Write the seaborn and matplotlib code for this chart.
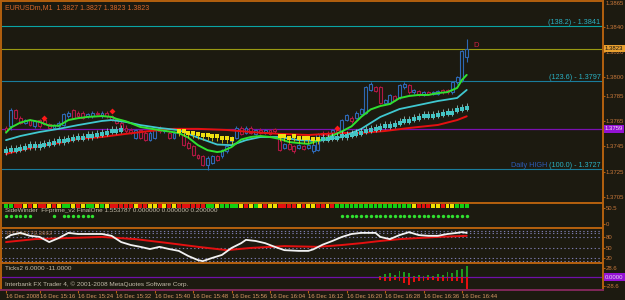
import matplotlib
matplotlib.use("Agg")
import matplotlib.pyplot as plt
import matplotlib.transforms as mtransforms
import numpy as np
import pandas as pd
import seaborn as sns

# ---------------- data ----------------
bars = list(range(97))  # M1 bars, 16 Dec 2008 15:09 ... 16:45

open_ = [1.3760, 1.3761, 1.3774, 1.3768, 1.3764, 1.3766, 1.3761, 1.3766, 1.3766, 1.3763,
         1.3760, 1.3761, 1.3762, 1.3769, 1.3774, 1.3772, 1.3772, 1.3769, 1.3769, 1.3772,
         1.3769, 1.3772, 1.3769, 1.3767, 1.3764, 1.3760, 1.3758, 1.3752, 1.3758, 1.3756,
         1.3750, 1.3752, 1.3760, 1.3757, 1.3756, 1.3752, 1.3756, 1.3754, 1.3748, 1.3745,
         1.3738, 1.3737, 1.3730, 1.3732, 1.3737, 1.3737, 1.3741, 1.3749, 1.3752, 1.3760,
         1.3756, 1.3760, 1.3755, 1.3758, 1.3756, 1.3758, 1.3759, 1.3752, 1.3744, 1.3747,
         1.3745, 1.3744, 1.3745, 1.3744, 1.3741, 1.3742, 1.3756, 1.3756, 1.3753, 1.3758,
         1.3756, 1.3766, 1.3768, 1.3768, 1.3771, 1.3772, 1.3790, 1.3792, 1.3792, 1.3780,
         1.3780, 1.3785, 1.3784, 1.3792, 1.3794, 1.3788, 1.3789, 1.3786, 1.3788, 1.3787,
         1.3787, 1.3790, 1.3790, 1.3788, 1.3796, 1.3797, 1.3816]
high = [1.3761, 1.3776, 1.3775, 1.3769, 1.3767, 1.3767, 1.3766, 1.3767, 1.3767, 1.3764,
        1.3763, 1.3765, 1.3772, 1.3773, 1.3775, 1.3773, 1.3773, 1.3772, 1.3773, 1.3773,
        1.3773, 1.3773, 1.3770, 1.3768, 1.3765, 1.3762, 1.3760, 1.3759, 1.3759, 1.3757,
        1.3757, 1.3759, 1.3761, 1.3760, 1.3757, 1.3757, 1.3759, 1.3755, 1.3749, 1.3746,
        1.3739, 1.3738, 1.3737, 1.3738, 1.3738, 1.3743, 1.3746, 1.3753, 1.3761, 1.3761,
        1.3761, 1.3761, 1.3759, 1.3760, 1.3759, 1.3759, 1.3760, 1.3753, 1.3748, 1.3748,
        1.3746, 1.3747, 1.3746, 1.3747, 1.3747, 1.3756, 1.3757, 1.3757, 1.3759, 1.3759,
        1.3767, 1.3771, 1.3769, 1.3773, 1.3776, 1.3793, 1.3796, 1.3793, 1.3793, 1.3783,
        1.3787, 1.3786, 1.3795, 1.3796, 1.3795, 1.3791, 1.3790, 1.3789, 1.3789, 1.3789,
        1.3790, 1.3791, 1.3791, 1.3797, 1.3801, 1.3822, 1.3831]
low = [1.3756, 1.3758, 1.3767, 1.3763, 1.3763, 1.3761, 1.3760, 1.3760, 1.3762, 1.3759,
       1.3759, 1.3760, 1.3761, 1.3768, 1.3767, 1.3768, 1.3767, 1.3768, 1.3768, 1.3770,
       1.3768, 1.3768, 1.3765, 1.3763, 1.3757, 1.3756, 1.3755, 1.3751, 1.3751, 1.3749,
       1.3749, 1.3751, 1.3756, 1.3756, 1.3751, 1.3751, 1.3755, 1.3745, 1.3743, 1.3737,
       1.3735, 1.3729, 1.3726, 1.3731, 1.3733, 1.3736, 1.3740, 1.3748, 1.3751, 1.3754,
       1.3755, 1.3755, 1.3754, 1.3755, 1.3755, 1.3754, 1.3756, 1.3741, 1.3743, 1.3742,
       1.3740, 1.3743, 1.3742, 1.3743, 1.3740, 1.3741, 1.3753, 1.3753, 1.3752, 1.3755,
       1.3755, 1.3765, 1.3764, 1.3767, 1.3770, 1.3771, 1.3789, 1.3788, 1.3779, 1.3779,
       1.3779, 1.3781, 1.3783, 1.3791, 1.3787, 1.3787, 1.3785, 1.3785, 1.3786, 1.3786,
       1.3786, 1.3787, 1.3787, 1.3787, 1.3795, 1.3796, 1.3812]
close = [1.3757, 1.3774, 1.3768, 1.3764, 1.3766, 1.3762, 1.3765, 1.3761, 1.3763, 1.3760,
         1.3762, 1.3764, 1.3771, 1.3772, 1.3768, 1.3769, 1.3768, 1.3771, 1.3772, 1.3771,
         1.3772, 1.3769, 1.3766, 1.3764, 1.3758, 1.3757, 1.3756, 1.3758, 1.3752, 1.3750,
         1.3756, 1.3758, 1.3757, 1.3759, 1.3752, 1.3756, 1.3758, 1.3746, 1.3744, 1.3738,
         1.3736, 1.3730, 1.3736, 1.3737, 1.3734, 1.3742, 1.3745, 1.3752, 1.3760, 1.3755,
         1.3760, 1.3756, 1.3758, 1.3756, 1.3758, 1.3755, 1.3757, 1.3742, 1.3747, 1.3743,
         1.3741, 1.3746, 1.3743, 1.3746, 1.3746, 1.3755, 1.3754, 1.3754, 1.3758, 1.3756,
         1.3766, 1.3770, 1.3765, 1.3772, 1.3775, 1.3792, 1.3795, 1.3789, 1.3780, 1.3782,
         1.3786, 1.3782, 1.3794, 1.3795, 1.3788, 1.3790, 1.3786, 1.3788, 1.3787, 1.3788,
         1.3789, 1.3788, 1.3788, 1.3796, 1.3800, 1.3821, 1.3823]

time_tick_bars = [0, 7, 15, 23, 31, 39, 47, 55, 63, 71, 79, 87, 95]
time_tick_labels = ["16 Dec 2008", "16 Dec 15:16", "16 Dec 15:24", "16 Dec 15:32",
                    "16 Dec 15:40", "16 Dec 15:48", "16 Dec 15:56", "16 Dec 16:04",
                    "16 Dec 16:12", "16 Dec 16:20", "16 Dec 16:28", "16 Dec 16:36",
                    "16 Dec 16:44"]

price_ticks = [1.3840, 1.3820, 1.3800, 1.3785, 1.3765, 1.3745, 1.3725, 1.3705]

green_ma_bar = [0, 1, 2, 3, 5, 7, 9, 11, 12, 13, 15, 17, 20, 22, 23, 25, 28, 32, 36, 38,
                40, 42, 44, 45, 47, 49, 51, 53, 55, 57, 59, 61, 63, 65, 67, 70, 72, 74, 76, 78,
                80, 82, 84, 86, 88, 90, 92, 94, 95, 96]
green_ma = [1.37560, 1.37600, 1.37620, 1.37640, 1.37660, 1.37645, 1.37615, 1.37615, 1.37637, 1.37660,
            1.37675, 1.37685, 1.37692, 1.37685, 1.37670, 1.37650, 1.37605, 1.37580, 1.37557, 1.37520,
            1.37460, 1.37420, 1.37405, 1.37410, 1.37445, 1.37505, 1.37525, 1.37533, 1.37525, 1.37510,
            1.37485, 1.37477, 1.37470, 1.37495, 1.37520, 1.37570, 1.37610, 1.37685, 1.37745, 1.37772,
            1.37788, 1.37835, 1.37852, 1.37860, 1.37860, 1.37875, 1.37883, 1.37916, 1.37979, 1.38020]

cyan_ma_bar = [0, 3, 7, 11, 15, 20, 22, 25, 28, 32, 36, 40, 44, 47, 50, 53, 57, 61, 65, 70,
               74, 78, 82, 86, 90, 94, 95, 96]
cyan_ma = [1.37500, 1.37533, 1.37565, 1.37590, 1.37620, 1.37653, 1.37660, 1.37645, 1.37620, 1.37597,
           1.37580, 1.37520, 1.37465, 1.37460, 1.37500, 1.37525, 1.37525, 1.37500, 1.37493, 1.37525,
           1.37589, 1.37685, 1.37748, 1.37780, 1.37812, 1.37836, 1.37868, 1.37900]

red_ma_bar = [0, 3, 7, 11, 15, 20, 25, 30, 35, 40, 46, 51, 57, 63, 70, 74, 79, 84, 90, 94, 96]
red_ma = [1.37390, 1.37420, 1.37453, 1.37477, 1.37510, 1.37525, 1.37550, 1.37573, 1.37590, 1.37590,
          1.37581, 1.37565, 1.37550, 1.37541, 1.37557, 1.37557, 1.37573, 1.37597, 1.37621, 1.37660,
          1.37690]

cyan_dot_bar = list(range(0, 25)) + list(range(66, 97))
cyan_dot = [1.3741, 1.3742, 1.3742, 1.3743, 1.3744, 1.3745, 1.3745, 1.3745, 1.3746, 1.3747,
            1.3748, 1.3749, 1.3749, 1.3750, 1.3751, 1.3752, 1.3752, 1.3753, 1.3753, 1.3754,
            1.3755, 1.3756, 1.3757, 1.3757, 1.3758,
            1.3751, 1.3751, 1.3752, 1.3752, 1.3753, 1.3753, 1.3754, 1.3755, 1.3756, 1.3757,
            1.3758, 1.3759, 1.3760, 1.3761, 1.3761, 1.3762, 1.3764, 1.3765, 1.3765, 1.3767,
            1.3768, 1.3769, 1.3769, 1.3769, 1.3770, 1.3771, 1.3772, 1.3772, 1.3774, 1.3775,
            1.3776]

yellow_dot_bar = list(range(36, 48)) + list(range(57, 66))
yellow_dot = [1.3757, 1.3757, 1.3756, 1.3756, 1.3755, 1.3754, 1.3754, 1.3753, 1.3753, 1.3752,
              1.3752, 1.3751,
              1.3753, 1.3753, 1.3752, 1.3753, 1.3752, 1.3752, 1.3752, 1.3751, 1.3751]

fractal_bar = [8, 22, 69]
fractal_price = [1.3768, 1.3773, 1.3760]

sw_state = list("GGRRYRYRRY" "RYGGYRYGGY" "GYRRRRRYRR" "YYRYRYRRRR" "RRGGYGGGGY"
                "RYGYRYYRRR" "RYRYYRRYRG" "GGGGGGGGGG" "GGGGGYRRRY" "YRYYGGG")
sw_dot_bar = [0, 1, 2, 3, 4, 5, 10, 12, 13, 14, 15, 16, 17, 18] + list(range(70, 97))

osc_white_bar = [0, 1, 3, 5, 7, 9, 11, 13, 15, 18, 20, 22, 24, 26, 28, 30, 32, 34, 36, 38,
                 40, 41, 43, 45, 47, 49, 50, 52, 54, 56, 58, 61, 63, 64, 66, 68, 70, 72, 74, 76,
                 77, 78, 80, 82, 84, 86, 88, 90, 92, 94, 95, 96]
osc_white = [78, 86, 92, 84, 81, 67, 78, 92, 89, 89, 89, 84, 67, 59, 54, 48, 54, 48, 43, 29,
             18, 15, 24, 32, 51, 64, 73, 70, 64, 54, 45, 43, 43, 47, 60, 70, 81, 89, 92, 92,
             92, 81, 75, 86, 94, 86, 84, 84, 89, 92, 94, 92]
osc_red_bar = [0, 6, 13, 20, 27, 34, 40, 46, 51, 58, 65, 70, 74, 78, 82, 86, 90, 96]
osc_red = [67, 75, 78, 81, 75, 64, 54, 45, 51, 56, 54, 59, 64, 70, 75, 78, 81, 84]
osc_levels = [98, 91, 80, 50, 23, 16]

tick_bar = list(range(78, 97))
tick_up = [3, 10.5, 14.7, 7.3, 21, 17.9, 14.7, 4.1, 7.3, 4.1, 7.3, 2, 10.5, 7.3, 17.9, 12.6, 23, 26.4, 36.9]
tick_down = [-8.6, -10.8, -13.9, -8.6, -10.8, -19.1, -24.5, -17, -10.8, -13.9, -8.6, -8.6, -13.9,
             -10.8, -13.9, -10.8, -13.9, -19, -38]

# ---------------- style ----------------
BG = '#1c1a10'
BORDER = '#b4600e'
LABEL = '#c8783a'
TIMECOL = '#d89a66'
BULL = '#2e68b4'
BEAR = '#b01844'
RFS = 4.3   # right-axis label size

sns.set_theme(style='dark', rc={'axes.facecolor': BG, 'figure.facecolor': BG,
                                'axes.edgecolor': BORDER})
plt.rcParams['font.family'] = ['Liberation Sans', 'DejaVu Sans']

fig = plt.figure(figsize=(6.25, 3.0), dpi=100)
fig.patch.set_facecolor(BG)


def px_axes(y0, y1, x0=1, x1=603):
    return fig.add_axes([x0 / 625, 1 - y1 / 300, (x1 - x0) / 625, (y1 - y0) / 300])


ax = px_axes(1, 203)
ax_sw = px_axes(203, 228)
ax_osc = px_axes(228, 263)
ax_tk = px_axes(263, 290)

for a in (ax, ax_sw, ax_osc, ax_tk):
    a.set_facecolor(BG)
    a.grid(False)
    a.set_xlim(-1.04, 124.4)
    for s in a.spines.values():
        s.set_color(BORDER)
        s.set_linewidth(1.4)
        s.set_visible(True)
    a.yaxis.tick_right()
    a.tick_params(axis='y', colors=BORDER, labelcolor=LABEL, labelsize=RFS,
                  length=1.5, width=0.8, pad=0.6, right=True, left=False)
    a.set_xlabel('')
    a.set_ylabel('')

for a in (ax, ax_sw, ax_osc):
    a.set_xticks([])

# ---------------- main price panel ----------------
ax.set_ylim(1.36999, 1.38609)
ax.set_yticks(price_ticks)
ax.set_yticklabels([f"{p:.4f}" for p in price_ticks])
ytrans = mtransforms.blended_transform_factory(ax.transAxes, ax.transData)

ax.axhline(1.3841, color='#0aa4a4', lw=0.8, zorder=1)
ax.axhline(1.3823, color='#9a9a12', lw=0.8, zorder=1)
ax.axhline(1.3797, color='#1a7c9c', lw=0.8, zorder=1)
ax.axhline(1.3759, color='#7a10b0', lw=0.9, zorder=1)
ax.axhline(1.3727, color='#1a7c9c', lw=0.8, zorder=1)

FIBO = '#2ab0c2'
ax.text(0.996, 1.3841, "(138.2) - 1.3841", transform=ytrans, ha='right', va='bottom',
        color=FIBO, fontsize=5.2)
ax.text(0.996, 1.3797, "(123.6) - 1.3797", transform=ytrans, ha='right', va='bottom',
        color=FIBO, fontsize=5.2)
t_dh = ax.text(0.996, 1.3727, "(100.0) - 1.3727", transform=ytrans, ha='right', va='bottom',
               color=FIBO, fontsize=5.2)
fig.canvas.draw()
bb = t_dh.get_window_extent(renderer=fig.canvas.get_renderer())
x_ax = ax.transAxes.inverted().transform((bb.x0, bb.y0))[0]
ax.text(x_ax - 0.003, 1.3727, "Daily HIGH", transform=ytrans, ha='right', va='bottom',
        color='#2c5cb8', fontsize=5.2)

df = pd.DataFrame({'bar': bars, 'open': open_, 'high': high, 'low': low, 'close': close})
df['color'] = np.where(df['close'] >= df['open'], BULL, BEAR)
body_lo = np.minimum(df['open'], df['close'])
body_h = np.maximum((df['close'] - df['open']).abs(), 0.00004)
ax.vlines(df['bar'], df['low'], df['high'], colors=df['color'], lw=0.8, zorder=3)
ax.bar(df['bar'], body_h, bottom=body_lo, width=0.6, facecolor=BG,
       edgecolor=df['color'], linewidth=0.8, zorder=4)

sns.lineplot(x=red_ma_bar, y=red_ma, ax=ax, color='#e41010', lw=1.4, zorder=5)
sns.lineplot(x=cyan_ma_bar, y=cyan_ma, ax=ax, color='#40c8d0', lw=1.3, zorder=5)
sns.lineplot(x=green_ma_bar, y=green_ma, ax=ax, color='#30e030', lw=1.4, zorder=6)

ax.vlines(cyan_dot_bar, np.array(cyan_dot) - 0.00025, np.array(cyan_dot) + 0.0004,
          colors='#a8dede', lw=0.5, zorder=6)
sns.scatterplot(x=cyan_dot_bar, y=cyan_dot, ax=ax, marker='s', s=7, color='#44c4c4',
                linewidth=0, zorder=7, legend=False)
ax.vlines(yellow_dot_bar, np.array(yellow_dot) - 0.0004, yellow_dot,
          colors='#d8c810', lw=0.6, zorder=6)
sns.scatterplot(x=yellow_dot_bar, y=yellow_dot, ax=ax, marker='s', s=8, color='#f0e010',
                linewidth=0, zorder=7, legend=False)
sns.scatterplot(x=fractal_bar, y=fractal_price, ax=ax, marker='D', s=9, color='#ff1818',
                linewidth=0, zorder=7, legend=False)
ax.text(97.3, 1.38255, "D", color='#d02040', fontsize=5.5, va='center', ha='left', zorder=7)

ax.text(0.006, 0.985, "EURUSDm,M1  1.3827 1.3827 1.3823 1.3823", transform=ax.transAxes,
        ha='left', va='top', color='#d8682a', fontsize=5.0)
ax.text(1.004, 0.998, "1.3865", transform=ax.transAxes, ha='left', va='top',
        color=LABEL, fontsize=RFS, clip_on=False)
ax.text(1.003, 1.3823, "1.3823", transform=ytrans, ha='left', va='center', color='#101010',
        fontsize=RFS, clip_on=False, zorder=10,
        bbox=dict(boxstyle='square,pad=0.2', fc='#e8a030', ec='none'))
ax.text(1.003, 1.3759, "1.3759", transform=ytrans, ha='left', va='center', color='#f0e0f0',
        fontsize=RFS, clip_on=False, zorder=10,
        bbox=dict(boxstyle='square,pad=0.2', fc='#9412d4', ec='none'))

# ---------------- SideWinder panel ----------------
ax_sw.set_ylim(-12.2, 64.3)
ax_sw.set_yticks([50.5, 0])
ax_sw.set_yticklabels(['50.5', '0'])
sns.scatterplot(x=bars, y=np.full(len(bars), 55.0), hue=sw_state, ax=ax_sw, marker='s', s=8,
                palette={'G': '#12d012', 'Y': '#f0e000', 'R': '#e41010'}, linewidth=0,
                legend=False, zorder=3)
sns.scatterplot(x=sw_dot_bar, y=np.full(len(sw_dot_bar), 24.0), ax=ax_sw, marker='o', s=6,
                color='#30e030', linewidth=0, legend=False, zorder=3)
ax_sw.text(0.006, 42, "SideWinder  FFprime_v2 FinalOne 1.553787 0.000000 0.000000 0.200000",
           transform=mtransforms.blended_transform_factory(ax_sw.transAxes, ax_sw.transData),
           ha='left', va='center', color='#c4bcaa', fontsize=4.6)

# ---------------- oscillator panel ----------------
ax_osc.set_ylim(10, 105.3)
ax_osc.set_yticks([80, 50, 23])
ax_osc.set_yticklabels(['80', '50', '20'])
for lv in osc_levels:
    ax_osc.axhline(lv, color='#7a7aac', lw=0.8, ls=(0, (1.2, 2.2)), zorder=1)
sns.lineplot(x=osc_red_bar, y=osc_red, ax=ax_osc, color='#e41010', lw=1.4, zorder=3)
sns.lineplot(x=osc_white_bar, y=osc_white, ax=ax_osc, color='#f2f2f2', lw=1.3, zorder=4)
ax_osc.text(0.01, 91, "RSI(14) 70.3662",
            transform=mtransforms.blended_transform_factory(ax_osc.transAxes, ax_osc.transData),
            ha='left', va='center', color='#a0683a', fontsize=4.4, zorder=2)

# ---------------- Ticks panel ----------------
ax_tk.set_ylim(-41, 45)
ax_tk.set_yticks([28.6, -28.6])
ax_tk.set_yticklabels(['28.6', '-28.6'])
ax_tk.axhline(0, color='#7010a8', lw=0.9, zorder=1)
ax_tk.bar(tick_bar, tick_up, width=0.4, color='#1e9a1e', edgecolor='none', linewidth=0, zorder=3)
ax_tk.bar(tick_bar, tick_down, width=0.4, color='#e41010', edgecolor='none', linewidth=0, zorder=3)
ax_tk.text(0.006, 0.80, "Ticks2 6.0000 -11.0000", transform=ax_tk.transAxes, ha='left',
           va='center', color='#c4bcaa', fontsize=4.6)
ax_tk.text(0.006, 0.22, "Interbank FX Trader 4, \u00a9 2001-2008 MetaQuotes Software Corp.",
           transform=ax_tk.transAxes, ha='left', va='center', color='#c4bcaa', fontsize=4.6)
tky = mtransforms.blended_transform_factory(ax_tk.transAxes, ax_tk.transData)
ax_tk.text(1.003, 0, "0.0000", transform=tky, ha='left', va='center', color='#e8d8f0',
           fontsize=RFS, clip_on=False, zorder=10,
           bbox=dict(boxstyle='square,pad=0.2', fc='#9412d4', ec='none'))
ax_tk.spines['bottom'].set_color('#80285a')

ax_tk.set_xticks(time_tick_bars)
ax_tk.set_xticklabels(time_tick_labels, ha='left')
ax_tk.tick_params(axis='x', colors=BORDER, labelcolor=TIMECOL, labelsize=4.2, length=2,
                  width=0.8, pad=1, bottom=True, direction='out')

fig.savefig('out.png', dpi=100, facecolor=BG)
